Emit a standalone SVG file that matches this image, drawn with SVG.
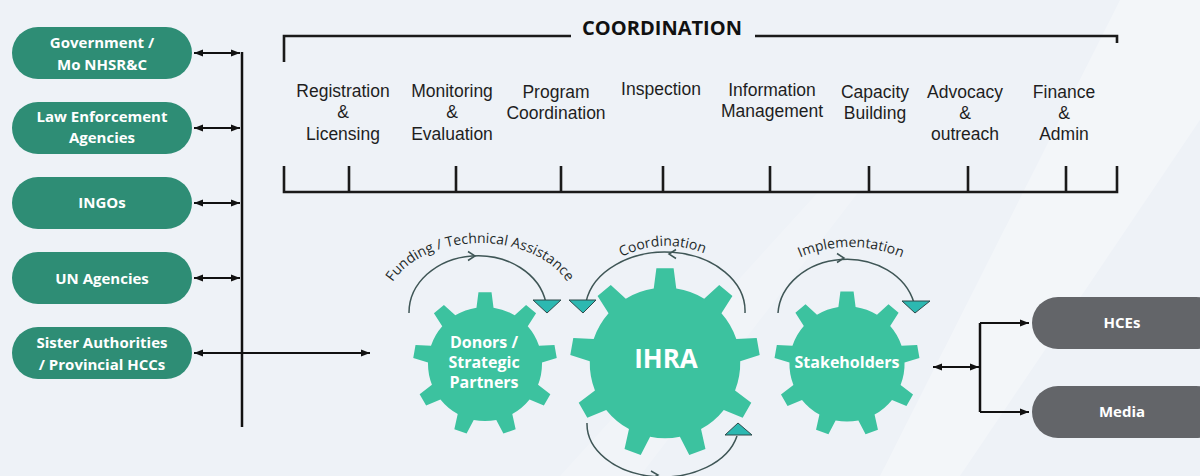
<svg xmlns="http://www.w3.org/2000/svg" xmlns:xlink="http://www.w3.org/1999/xlink" width="1200" height="476" viewBox="0 0 1200 476">
<style>
.pill{fill:#2e8d75}
.gpill{fill:#636569}
.ptxt{font-family:"Open Sans","Liberation Sans",sans-serif;font-weight:bold;font-size:15px;fill:#ffffff;text-anchor:middle}
.gtxt{font-family:"Open Sans","Liberation Sans",sans-serif;font-weight:bold;font-size:16px;fill:#ffffff;text-anchor:middle}
.ftxt{font-family:"Liberation Sans",Arial,sans-serif;font-size:17.5px;fill:#1e1e1e;text-anchor:middle}
.ctxt{font-family:"Open Sans","Liberation Sans",sans-serif;font-size:14px;fill:#1f2a2a}
.gear{fill:#3cc29f}
.bus{stroke:#111;stroke-width:2.5;fill:none}
.arr{stroke:#111;stroke-width:2.2;fill:none}
.brk{stroke:#1a1a1a;stroke-width:2.6;fill:none}
.loop{stroke:#3f5656;stroke-width:1.5;fill:none}
.tri{fill:#2cb8b1;stroke:#2f4a4a;stroke-width:1}
</style>
<defs>
<marker id="ah" viewBox="0 0 10 8" refX="10" refY="4" markerWidth="9" markerHeight="7.5" markerUnits="userSpaceOnUse" orient="auto-start-reverse">
<path d="M0,0 L10,4 L0,8 Z" fill="#111"/>
</marker>
<path id="gearShape" d="M -8.52 -56.36 L -6.53 -71.70 L 6.53 -71.70 L 8.52 -56.36 A 57 57 0 0 1 29.70 -48.65 L 41.09 -59.12 L 51.09 -50.73 L 42.76 -37.69 A 57 57 0 0 1 54.02 -18.18 L 69.48 -18.88 L 71.75 -6.03 L 56.98 -1.39 A 57 57 0 0 1 53.07 20.80 L 65.36 30.20 L 58.86 41.47 L 44.55 35.56 A 57 57 0 0 1 27.29 50.05 L 30.66 65.15 L 18.39 69.61 L 11.27 55.88 A 57 57 0 0 1 -11.27 55.88 L -18.39 69.61 L -30.66 65.15 L -27.29 50.05 A 57 57 0 0 1 -44.55 35.56 L -58.86 41.47 L -65.36 30.20 L -53.07 20.80 A 57 57 0 0 1 -56.98 -1.39 L -71.75 -6.03 L -69.48 -18.88 L -54.02 -18.18 A 57 57 0 0 1 -42.76 -37.69 L -51.09 -50.73 L -41.09 -59.12 L -29.70 -48.65 A 57 57 0 0 1 -8.52 -56.36 Z"/>
<path id="pFund" d="M 384 310 A 96 67 0 0 1 576 310"/>
<path id="pCoord" d="M 612 262 Q 662 232 714 258"/>
<path id="pImpl" d="M 790 262 Q 850 232 912 262"/>
</defs>

<rect x="0" y="0" width="1200" height="476" fill="#eef2f7"/>
<polygon points="1120,0 1200,0 1200,120 960,476 880,476" fill="#ffffff" opacity="0.3"/>
<polygon points="560,476 640,476 860,190 820,190" fill="#ffffff" opacity="0.2"/>

<!-- Left stakeholders -->
<g id="n-government"><rect class="pill" x="12" y="27" width="180" height="52" rx="26"/><text class="ptxt" x="102" y="48">Government /</text><text class="ptxt" x="102" y="70">Mo NHSR&amp;C</text></g>
<g id="n-law"><rect class="pill" x="12" y="102" width="180" height="52" rx="26"/><text class="ptxt" x="102" y="122">Law Enforcement</text><text class="ptxt" x="102" y="143">Agencies</text></g>
<g id="n-ingos"><rect class="pill" x="12" y="177" width="180" height="52" rx="26"/><text class="ptxt" x="102" y="208">INGOs</text></g>
<g id="n-un"><rect class="pill" x="12" y="252" width="180" height="52" rx="26"/><text class="ptxt" x="102" y="284">UN Agencies</text></g>
<g id="n-sister"><rect class="pill" x="12" y="327" width="180" height="52" rx="26"/><text class="ptxt" x="102" y="348">Sister Authorities</text><text class="ptxt" x="102" y="370">/ Provincial HCCs</text></g>

<!-- Coordination bracket -->
<g id="n-coordination">
<path class="brk" d="M 284 62 L 284 36 L 571 36"/>
<path class="brk" d="M 755 36 L 1117 36 L 1117 43"/>
<text x="662" y="35" font-family="Open Sans, Liberation Sans, sans-serif" font-weight="bold" font-size="19" fill="#111" text-anchor="middle" textLength="160" lengthAdjust="spacingAndGlyphs">COORDINATION</text>
<path class="brk" d="M 284 166 L 284 192 L 1117 192 L 1117 166 M 349 166 L 349 192 M 456 166 L 456 192 M 561 166 L 561 192 M 663 166 L 663 192 M 770 166 L 770 192 M 869 166 L 869 192 M 968 166 L 968 192 M 1066 166 L 1066 192"/>
<text class="ftxt"><tspan x="343" y="97">Registration</tspan><tspan x="343" y="118">&amp;</tspan><tspan x="343" y="140">Licensing</tspan></text>
<text class="ftxt"><tspan x="452" y="97">Monitoring</tspan><tspan x="452" y="118">&amp;</tspan><tspan x="452" y="140">Evaluation</tspan></text>
<text class="ftxt"><tspan x="556" y="98">Program</tspan><tspan x="556" y="119">Coordination</tspan></text>
<text class="ftxt"><tspan x="661" y="95">Inspection</tspan></text>
<text class="ftxt"><tspan x="772" y="96">Information</tspan><tspan x="772" y="117">Management</tspan></text>
<text class="ftxt"><tspan x="875" y="98">Capacity</tspan><tspan x="875" y="119">Building</tspan></text>
<text class="ftxt"><tspan x="965" y="98">Advocacy</tspan><tspan x="965" y="119">&amp;</tspan><tspan x="965" y="140">outreach</tspan></text>
<text class="ftxt"><tspan x="1064" y="98">Finance</tspan><tspan x="1064" y="119">&amp;</tspan><tspan x="1064" y="140">Admin</tspan></text>
</g>

<!-- Gears -->
<g id="n-donors"><use href="#gearShape" class="gear" transform="translate(485,364)"/><text class="gtxt" x="484" y="348">Donors /</text><text class="gtxt" x="484" y="368">Strategic</text><text class="gtxt" x="484" y="388">Partners</text></g>
<g id="n-ihra"><use href="#gearShape" class="gear" transform="translate(665,363) scale(1.32)"/><text x="666" y="368" font-family="Open Sans, Liberation Sans, sans-serif" font-weight="bold" font-size="26" fill="#ffffff" text-anchor="middle">IHRA</text></g>
<g id="n-stakeholders"><use href="#gearShape" class="gear" transform="translate(847,364) scale(1.01)"/><text class="gtxt" x="847" y="368" font-size="15.5">Stakeholders</text></g>

<!-- Right -->
<g id="n-hces"><rect class="gpill" x="1032" y="297" width="190" height="52" rx="26"/><text class="ptxt" x="1122" y="328">HCEs</text></g>
<g id="n-media"><rect class="gpill" x="1032" y="386" width="190" height="52" rx="26"/><text class="ptxt" x="1122" y="417">Media</text></g>

<!-- Connectors -->
<g id="connectors">
<path class="bus" d="M 242 52 L 242 427"/>
<path class="arr" d="M 194 53 L 240 53" marker-start="url(#ah)" marker-end="url(#ah)"/>
<path class="arr" d="M 194 128 L 240 128" marker-start="url(#ah)" marker-end="url(#ah)"/>
<path class="arr" d="M 194 203 L 240 203" marker-start="url(#ah)" marker-end="url(#ah)"/>
<path class="arr" d="M 194 278 L 240 278" marker-start="url(#ah)" marker-end="url(#ah)"/>
<path class="arr" d="M 194 353 L 370 353" marker-start="url(#ah)" marker-end="url(#ah)"/>
<path class="arr" d="M 933 367 L 979 367" marker-start="url(#ah)" marker-end="url(#ah)"/>
<path class="bus" d="M 980 323 L 980 412"/>
<path class="arr" d="M 980 323 L 1029 323" marker-end="url(#ah)"/>
<path class="arr" d="M 980 412 L 1029 412" marker-end="url(#ah)"/>

<path class="loop" d="M 409 313 A 69 57 0 0 1 546 303"/>
<path class="loop" d="M 468 251.5 L 475 256 L 468 260.5"/>
<polygon class="tri" points="533,300 561,300 547,313"/>
<text class="ctxt"><textPath href="#pFund" startOffset="50%" text-anchor="middle">Funding / Technical Assistance</textPath></text>

<path class="loop" d="M 745 313 A 80 59 0 0 0 586 302"/>
<path class="loop" d="M 676 249.5 L 669 254 L 676 258.5"/>
<polygon class="tri" points="569,300 596,300 583,313"/>
<text class="ctxt"><textPath href="#pCoord" startOffset="50%" text-anchor="middle">Coordination</textPath></text>

<path class="loop" d="M 587 423 A 76 53 0 0 0 737 436"/>
<path class="loop" d="M 651 471 L 658 475 L 651 479"/>
<polygon class="tri" points="725,435 752,435 738,423"/>

<path class="loop" d="M 778 313 A 69 57 0 0 1 914 303"/>
<path class="loop" d="M 837 253.5 L 844 258 L 837 262.5"/>
<polygon class="tri" points="902,301 930,301 915,313"/>
<text class="ctxt"><textPath href="#pImpl" startOffset="50%" text-anchor="middle">Implementation</textPath></text>
</g>
</svg>
